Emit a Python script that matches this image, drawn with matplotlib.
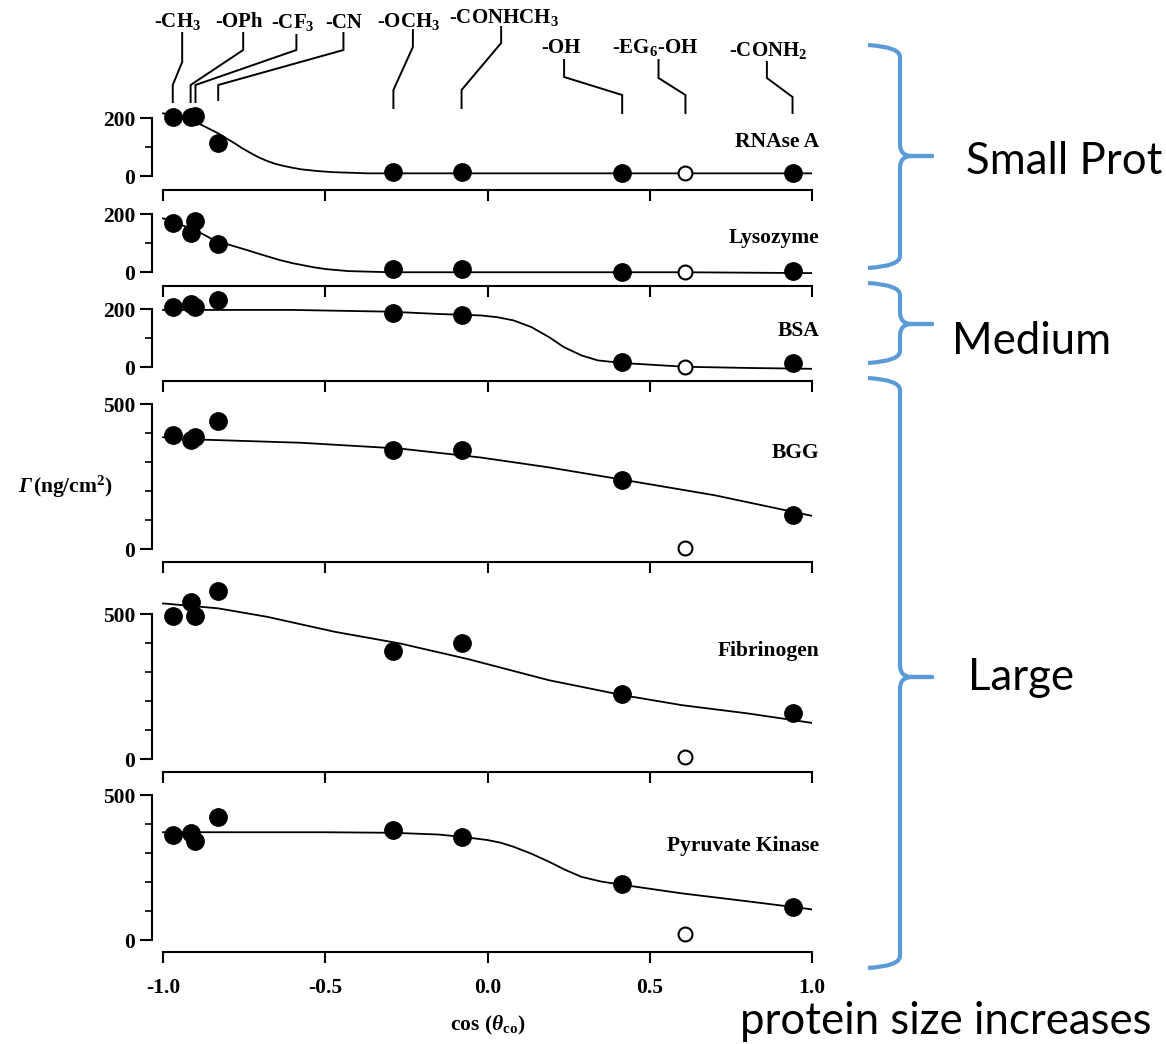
import numpy as np
import matplotlib
matplotlib.use('Agg')
import matplotlib.pyplot as plt
from matplotlib.path import Path
from matplotlib.patches import PathPatch
from matplotlib.transforms import blended_transform_factory

plt.rcParams['font.family'] = 'Liberation Serif'
plt.rcParams['font.weight'] = 'bold'
plt.rcParams['mathtext.fontset'] = 'custom'
plt.rcParams['mathtext.rm'] = 'Liberation Serif:bold'
plt.rcParams['mathtext.bf'] = 'Liberation Serif:bold'
plt.rcParams['mathtext.it'] = 'Liberation Serif:italic:bold'

# surface terminal groups and cos of the water contact angle
groups = [r'-CH$_3$', '-OPh', r'-CF$_3$', '-CN', r'-OCH$_3$', r'-CONHCH$_3$',
          '-OH', r'-EG$_6$-OH', r'-CONH$_2$']
cos_theta = [-0.97, -0.915, -0.90, -0.83, -0.29, -0.08, 0.415, 0.61, 0.94]
open_idx = 7  # EG6-OH is drawn as an open circle

proteins = ['RNAse A', 'Lysozyme', 'BSA', 'BGG', 'Fibrinogen', 'Pyruvate Kinase']

# adsorbed amount (ng/cm2), one value per group
rnase = [203, 203, 207, 114, 14, 14, 10, 10, 10]
lysozyme = [169, 134, 176, 97, 10, 10, 0, 0, 3]
bsa = [207, 217, 207, 234, 186, 179, 17, 0, 14]
bgg = [393, 376, 386, 442, 341, 341, 238, 3, 117]
fibrinogen = [494, 541, 493, 579, 373, 400, 224, 8, 160]
pyruvate = [362, 368, 343, 423, 379, 356, 193, 21, 114]

# fitted curves
rnase_fit_x = [-1.0, -0.95, -0.885, -0.83, -0.78, -0.755, -0.73, -0.705, -0.68, -0.655,
               -0.63, -0.6, -0.575, -0.525, -0.475, -0.42, -0.37, 0.0, 0.5, 1.0]
rnase_fit_y = [217, 205, 179, 148, 114, 96, 80, 65, 53, 43, 36, 29, 24, 18, 14, 12, 10,
               10, 10, 10]
lyso_fit_x = [-1.0, -0.9, -0.845, -0.8, -0.74, -0.7, -0.64, -0.6, -0.535, -0.5, -0.43,
              -0.3, 0.2, 0.6, 1.0]
lyso_fit_y = [186, 145, 112, 96, 76, 62, 42, 31, 17, 11, 4, 0, 0, 0, -3]
bsa_fit_x = [-1.0, -0.6, -0.3, -0.15, -0.02, 0.03, 0.08, 0.135, 0.19, 0.235, 0.29, 0.34,
             0.415, 0.61, 0.8, 1.0]
bsa_fit_y = [198, 198, 192, 184, 179, 173, 162, 139, 104, 70, 41, 24, 15, 2, -2, -5]
bgg_fit_x = [-1.0, -0.885, -0.575, -0.27, -0.02, 0.19, 0.415, 0.7, 1.0]
bgg_fit_y = [386, 378, 367, 347, 316, 282, 240, 186, 115]
fib_fit_x = [-1.0, -0.83, -0.68, -0.47, -0.27, -0.06, 0.19, 0.415, 0.6, 0.8, 1.0]
fib_fit_y = [537, 520, 491, 439, 399, 345, 272, 221, 186, 158, 125]
pyr_fit_x = [-1.0, -0.5, -0.29, -0.15, -0.07, 0.0, 0.04, 0.08, 0.135, 0.19, 0.24, 0.29,
             0.35, 0.42, 0.6, 0.8, 1.0]
pyr_fit_y = [372, 372, 370, 364, 355, 345, 336, 322, 298, 270, 242, 218, 202, 190, 161,
             134, 106]

values = [rnase, lysozyme, bsa, bgg, fibrinogen, pyruvate]
fits = [(rnase_fit_x, rnase_fit_y), (lyso_fit_x, lyso_fit_y), (bsa_fit_x, bsa_fit_y),
        (bgg_fit_x, bgg_fit_y), (fib_fit_x, fib_fit_y), (pyr_fit_x, pyr_fit_y)]
ymax_tick = [200, 200, 200, 500, 500, 500]

# layout (pixels of a 1166x1044 canvas)
W, H = 1166, 1044
px_per_unit = 0.29
ylims = [(-48, 252), (-48, 283), (-48, 280), (-45, 579), (-45, 679), (-41, 579)]
label_y = [117, 117, 124, 331, 372, 324]
ax_left, ax_right, ax_bottom = 152, 812, 952
fs = 15.5

fig = plt.figure(figsize=(W / 100, H / 100), dpi=100)

# stack panels from the bottom up
axes = [None] * 6
bottom = ax_bottom
for i in range(5, -1, -1):
    lo, hi = ylims[i]
    h = (hi - lo) * px_per_unit
    ax = fig.add_axes([ax_left / W, (H - bottom) / H, (ax_right - ax_left) / W, h / H])
    axes[i] = ax
    bottom -= h

for i, ax in enumerate(axes):
    fx, fy = fits[i]
    ax.plot(fx, fy, color='black', lw=1.3, zorder=2)
    filled_x = [x for j, x in enumerate(cos_theta) if j != open_idx]
    filled_y = [y for j, y in enumerate(values[i]) if j != open_idx]
    ax.plot(filled_x, filled_y, 'o', color='black', ms=12.5, zorder=3)
    ax.plot(cos_theta[open_idx], values[i][open_idx], 'o', mfc='white', mec='black',
            mew=1.5, ms=10, zorder=3)

    ax.set_xlim(-1.034, 1.0)
    ax.set_ylim(*ylims[i])
    ax.patch.set_visible(False)
    for s in ['top', 'right']:
        ax.spines[s].set_visible(False)
    ax.spines['left'].set_bounds(0, ymax_tick[i])
    ax.spines['bottom'].set_bounds(-1, 1)
    ax.spines['left'].set_linewidth(1.5)
    ax.spines['bottom'].set_linewidth(1.5)

    ax.set_xticks([-1.0, -0.5, 0.0, 0.5, 1.0])
    ax.set_yticks([0, ymax_tick[i]])
    ax.set_yticks(np.arange(100, ymax_tick[i], 100), minor=True)
    ax.tick_params(axis='x', direction='out', length=8, width=1.5, pad=11, labelsize=fs)
    ax.tick_params(axis='y', which='major', direction='out', length=9, width=1.5, pad=3,
                   labelsize=fs)
    ax.tick_params(axis='y', which='minor', direction='out', length=5, width=1.2)
    if i < 5:
        ax.tick_params(axis='x', labelbottom=False)
    else:
        ax.set_xticklabels(['-1.0', '-0.5', '0.0', '0.5', '1.0'])

    ax.text(1.022, label_y[i], proteins[i], ha='right', va='center', fontsize=fs)

# overlay in pixel coordinates for annotations
ov = fig.add_axes([0, 0, 1, 1])
ov.set_xlim(0, W)
ov.set_ylim(H, 0)
ov.set_axis_off()
mix = blended_transform_factory(axes[0].transData, ov.transData)

# leader lines: label x (data), label baseline, and the bend heights (pixels)
label_x = [-0.941, -0.753, -0.589, -0.444, -0.23, 0.042, 0.236, 0.527, 0.861]
label_base = [27, 27, 28, 28, 27, 23, 53, 53, 56]
bends = [(33, 62, 85, 102), (33, 50, 85, 102), (35, 50, 85, 102), (33, 50, 85, 100),
         (30, 47, 90, 108), (27, 43, 90, 108), (60, 77, 95, 113), (60, 78, 95, 113),
         (62, 78, 97, 113)]
text_dx = [-0.015, -0.012, -0.01, 0.0, -0.012, 0.01, -0.01, -0.01, 0.005]
for g, cx, tx, base, (y0, y1, y2, y3), dx in zip(groups, cos_theta, label_x, label_base,
                                                 bends, text_dx):
    ov.plot([tx, tx, cx, cx], [y0, y1, y2, y3], color='black', lw=1.4, transform=mix,
            solid_joinstyle='miter')
    ov.text(tx + dx, base, g, ha='center', va='baseline', fontsize=15, transform=mix)

# axis titles
ov.text(0.0, 1025, r'cos ($\theta_{\mathrm{co}}$)', ha='center', va='center', fontsize=fs,
        transform=mix)
ov.text(25, 487, '\u0393', ha='center', va='center', fontsize=fs, style='italic')
ov.text(73, 487, r'(ng/cm$^2$)', ha='center', va='center', fontsize=fs)


def brace(top, tip, bottom, xa=868, xv=900, xt=932, r=12):
    verts = [(xa, top), (xv, top + 2), (xv, top + r), (xv, tip - r), (xv, tip), (xv + r, tip),
             (xt, tip), (xv + r, tip), (xv, tip), (xv, tip + r), (xv, bottom - r),
             (xv, bottom - 2), (xa, bottom)]
    codes = [Path.MOVETO, Path.CURVE3, Path.CURVE3, Path.LINETO, Path.CURVE3, Path.CURVE3,
             Path.LINETO, Path.LINETO, Path.CURVE3, Path.CURVE3, Path.LINETO,
             Path.CURVE3, Path.CURVE3]
    ov.add_patch(PathPatch(Path(verts, codes), fill=False, edgecolor='#5B9BD5', lw=3,
                           capstyle='butt', joinstyle='round'))


brace(45, 156, 268)
brace(283, 324, 363)
brace(378, 677, 968)

sans = 'Lato'
ov.text(966, 162, 'Small Prot', ha='left', va='center', fontsize=31.5, family=sans,
        weight='normal')
ov.text(952, 341, 'Medium', ha='left', va='center', fontsize=31.5, family=sans, weight='normal')
ov.text(968, 678, 'Large', ha='left', va='center', fontsize=31.5, family=sans, weight='normal')
ov.text(740, 1022, 'protein size increases', ha='left', va='center', fontsize=31.5,
        family=sans, weight='normal')

fig.savefig('out.png', dpi=100)
